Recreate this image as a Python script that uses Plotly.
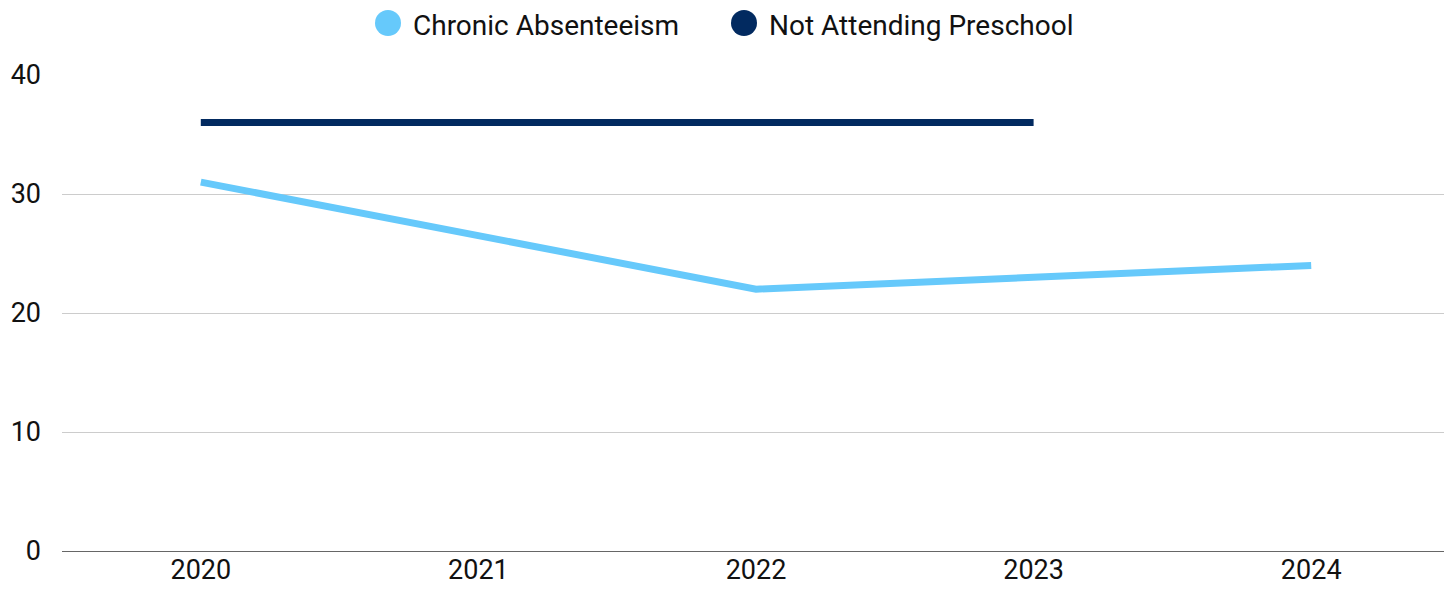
import plotly.graph_objects as go

years = ["2020", "2021", "2022", "2023", "2024"]
chronic_absenteeism = [31, 26.5, 22, 23, 24]
not_attending_preschool = [36, 36, 36, 36, None]
y_ticks = [0, 10, 20, 30, 40]
series_names = ["Chronic Absenteeism", "Not Attending Preschool"]

light_blue = "#66c9fb"
navy = "#022a60"

# the page body has an 8px margin, so the figure is drawn 8px in from the corner
OFF = 8
W, H = 1452 - OFF, 591 - OFF
ML, MR, MT, MB = 62 - OFF, 2, 75 - OFF, 40
pw, ph = W - ML - MR, H - MT - MB

fig = go.Figure()
fig.add_trace(go.Scatter(x=years, y=chronic_absenteeism, mode="lines", name=series_names[0],
                         line=dict(color=light_blue, width=7), showlegend=False))
fig.add_trace(go.Scatter(x=years, y=not_attending_preschool, mode="lines", name=series_names[1],
                         line=dict(color=navy, width=7), showlegend=False))


# custom legend: big round swatches + labels (plotly caps legend markers at 16px)
def px_x(p):
    return (p - OFF - ML) / pw


def px_y(p):
    return (H - MB - (p - OFF)) / ph


legend_items = [(series_names[0], light_blue, 388), (series_names[1], navy, 744)]
for name, col, cx in legend_items:
    r = 13
    fig.add_shape(type="circle", xref="paper", yref="paper",
                  x0=px_x(cx - r), x1=px_x(cx + r), y0=px_y(23 + r), y1=px_y(23 - r),
                  fillcolor=col, line=dict(width=0))
    fig.add_annotation(xref="paper", yref="paper", x=px_x(cx + 24), y=px_y(OFF),
                       text=name, showarrow=False, xanchor="left", yanchor="top",
                       borderpad=0, font=dict(size=28, color="#111"))

fig.update_layout(
    width=W, height=H,
    margin=dict(l=ML, r=MR, t=MT, b=MB, autoexpand=False),
    plot_bgcolor="white", paper_bgcolor="white",
    font=dict(family="Roboto", size=27, color="#111"),
    showlegend=False,
)
fig.update_xaxes(type="category", range=[-0.5, 4.5], showgrid=False, ticks="",
                 tickfont=dict(size=27), showline=False)
fig.update_yaxes(range=[0, 40], tickvals=y_ticks, showgrid=True, gridcolor="#cccccc",
                 gridwidth=1, zeroline=True, zerolinecolor="#666666", zerolinewidth=1,
                 ticks="", tickfont=dict(size=27), ticklabelstandoff=20)
fig.write_html("out.html")
